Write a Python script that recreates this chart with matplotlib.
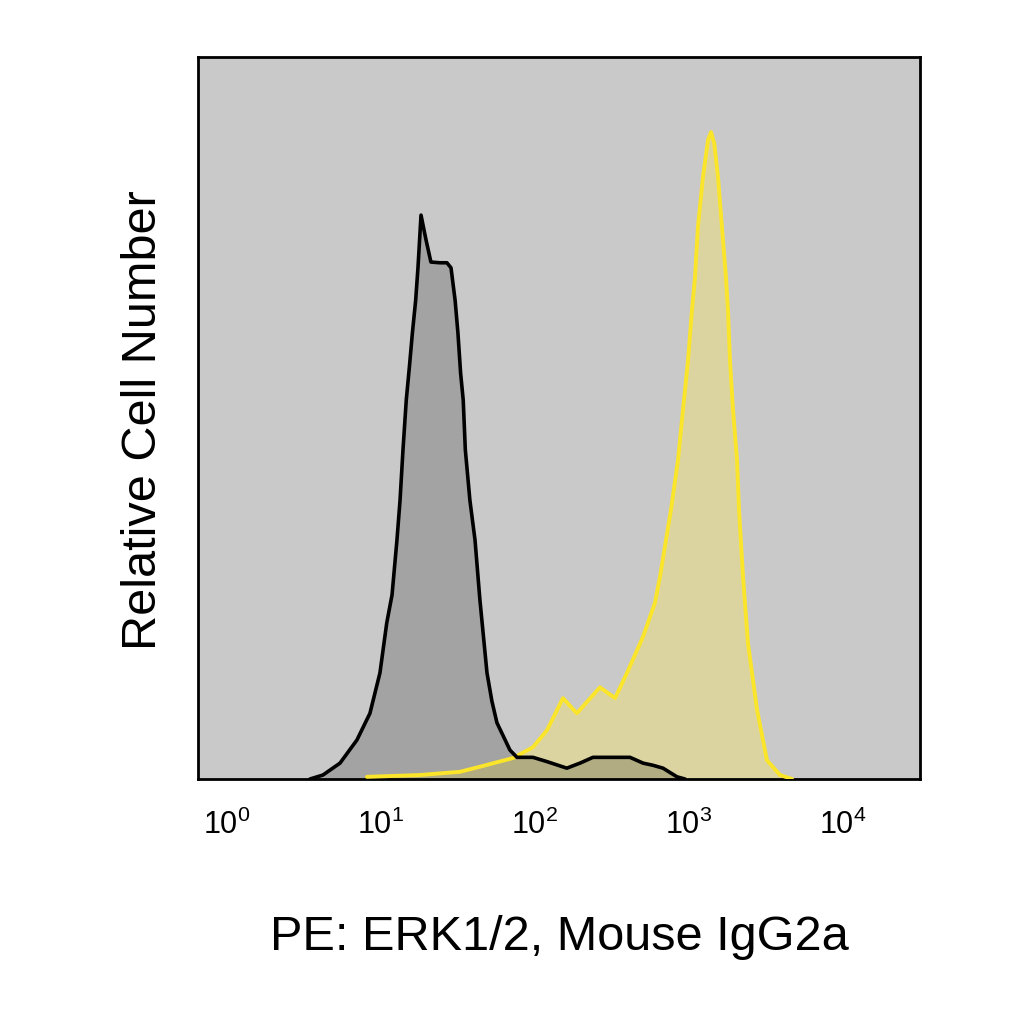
import numpy as np
import matplotlib
matplotlib.use("Agg")
import matplotlib.pyplot as plt
from matplotlib import font_manager

# isotype control (Mouse IgG2a), black outline
iso_x = [3.46, 4.20, 5.42, 6.98, 8.48, 9.85, 10.9, 11.8, 12.7, 13.3, 13.9, 14.6,
         15.3, 16.0, 16.8, 17.4, 18.2, 19.6, 21.1, 24.2, 26.8, 28.5, 30.3, 31.6,
         32.9, 34.2, 35.3, 37.8, 40.8, 43.9, 48.8, 52.5, 56.6, 68.8, 76.4, 97.0,
         120, 161, 196, 238, 414, 503, 584, 678, 836, 942]
iso_y = [0.0, 0.55, 2.2, 5.4, 9.1, 14.7, 21.6, 25.5, 33.1, 38.6, 45.6, 52.5,
         57.1, 61.8, 66.3, 70.9, 78.1, 74.7, 71.6, 71.5, 71.5, 70.8, 66.3, 61.8,
         56.2, 52.5, 45.6, 38.6, 33.1, 24.8, 14.7, 10.8, 7.8, 4.0, 3.0, 3.0,
         2.4, 1.5, 2.2, 3.0, 3.0, 2.2, 1.9, 1.5, 0.3, 0.0]

# ERK1/2 stain, yellow outline
erk_x = [8.11, 17.9, 32.6, 43.9, 71.9, 97.0, 120, 152, 187, 264, 331, 396,
         503, 601, 648, 764, 849, 914, 986, 1046, 1094, 1143, 1233, 1330, 1390,
         1460, 1543, 1637, 1738, 1791, 1846, 1932, 2051, 2113, 2244, 2416, 2766,
         3207, 3899, 4667]
erk_y = [0.3, 0.55, 1.0, 1.7, 2.9, 4.4, 6.8, 11.2, 9.1, 12.7, 11.2, 14.7,
         19.7, 24.4, 28.0, 37.3, 44.2, 51.1, 58.0, 65.0, 69.5, 76.5, 83.4, 88.5, 89.6,
         88.0, 83.4, 76.5, 69.5, 65.0, 58.0, 51.1, 44.2, 37.3, 28.0, 18.8, 9.6,
         2.6, 0.55, 0.0]

decades = [1, 10, 100, 1000, 10000]
decade_labels = [r"$10^{0}$", r"$10^{1}$", r"$10^{2}$", r"$10^{3}$", r"$10^{4}$"]

installed = {f.name for f in font_manager.fontManager.ttflist}
narrow = "Liberation Sans Narrow" if "Liberation Sans Narrow" in installed else "Liberation Sans"
plt.rcParams["font.family"] = ["Liberation Sans", "DejaVu Sans"]
plt.rcParams["mathtext.fontset"] = "custom"
plt.rcParams["mathtext.rm"] = narrow
plt.rcParams["mathtext.it"] = narrow
plt.rcParams["mathtext.bf"] = narrow

fig = plt.figure(figsize=(10.24, 10.24), dpi=100)
ax = fig.add_axes([198 / 1024, 1 - 779 / 1024, 722 / 1024, 722 / 1024])
ax.set_facecolor("#c9c9c9")

ax.fill_between(erk_x, erk_y, 0, color="#dbd4a0", lw=0, zorder=1)
ax.fill_between(iso_x, iso_y, 0, color="black", alpha=0.19, lw=0, zorder=2)
ax.plot(erk_x, erk_y, color="#fbe52a", lw=2.8, zorder=3,
        solid_joinstyle="round", solid_capstyle="round")
ax.plot(iso_x, iso_y, color="black", lw=2.6, zorder=4,
        solid_joinstyle="round", solid_capstyle="round")

ax.set_xscale("log")
ax.set_xlim(10 ** -0.188, 10 ** 4.5)
ax.set_ylim(0, 100)
ax.set_yticks([])
ax.set_xticks(decades)
ax.set_xticklabels(decade_labels, fontsize=22)
ax.minorticks_off()
ax.tick_params(axis="x", length=0, pad=22)
for s in ax.spines.values():
    s.set_linewidth(2.0)
    s.set_color("black")

fig.text(559 / 1024, 1 - 937 / 1024, "PE: ERK1/2, Mouse IgG2a", fontsize=35,
         ha="center", va="center")
fig.text(143 / 1024, 1 - 420 / 1024, "Relative Cell Number", fontsize=35,
         rotation=90, ha="center", va="center")

fig.savefig("out.png", dpi=100, facecolor="white")
